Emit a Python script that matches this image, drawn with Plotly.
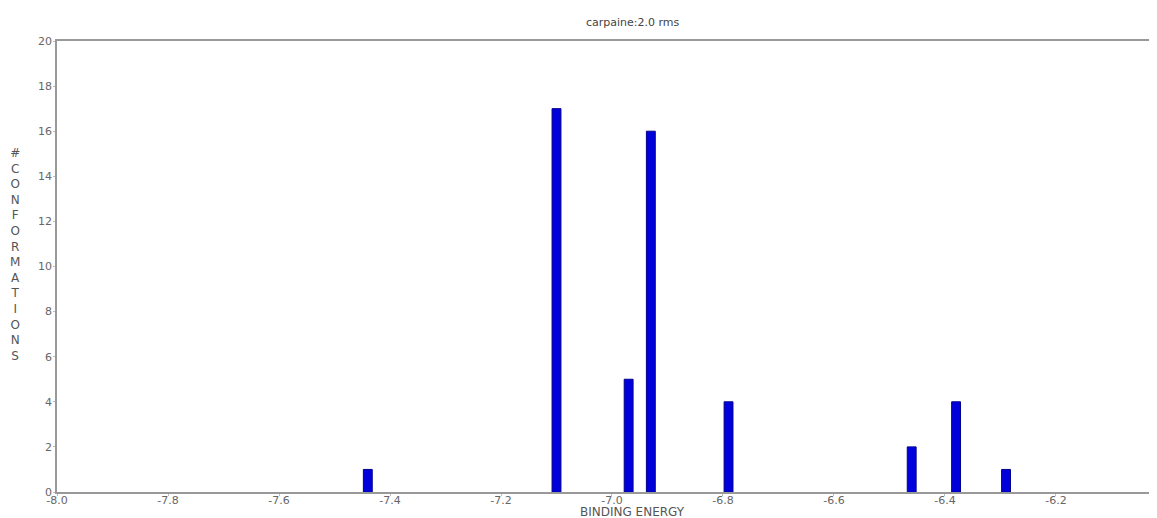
import plotly.graph_objects as go

binding_energy = [-7.44, -7.10, -6.97, -6.93, -6.79, -6.46, -6.38, -6.29]
conformations = [1, 17, 5, 16, 4, 2, 4, 1]
x_ticks = [-8.0, -7.8, -7.6, -7.4, -7.2, -7.0, -6.8, -6.6, -6.4, -6.2]
y_ticks = [0, 2, 4, 6, 8, 10, 12, 14, 16, 18, 20]
title_text = "carpaine:2.0 rms"
x_title = "BINDING ENERGY"
y_title = "#CONFORMATIONS"

# page body has an 8px margin; figure is sized to fill the rest of the window
W, H = 1149, 510
L, T, B = 49, 33, 26
plot_w = W - L
plot_h = H - T - B

fig = go.Figure()
fig.add_trace(go.Bar(
    x=binding_energy, y=conformations, width=0.016,
    marker=dict(color="#0000dc", line=dict(color="#00008c", width=1)),
    showlegend=False,
))

font_fam = "DejaVu Sans, Verdana, sans-serif"
fig.update_layout(
    width=W, height=H,
    margin=dict(l=L, r=0, t=T, b=B, autoexpand=False),
    paper_bgcolor="white", plot_bgcolor="white",
    font=dict(family=font_fam, size=11, color="#555"),
    xaxis=dict(range=[-8.0, -6.018], tickvals=x_ticks,
               ticktext=[f"{v:.1f}" for v in x_ticks],
               showgrid=False, zeroline=False, showline=True,
               linecolor="#999", linewidth=1.5, mirror=True,
               ticks="outside", ticklen=2, tickcolor="#bbb",
               ticklabelstandoff=-5,
               tickfont=dict(size=11, color="#666")),
    yaxis=dict(range=[0, 20], tickvals=y_ticks,
               showgrid=False, zeroline=False, showline=True,
               linecolor="#999", linewidth=1.5,
               ticks="outside", ticklen=2, tickcolor="#bbb",
               ticklabelstandoff=-1,
               tickfont=dict(size=11, color="#666")),
    annotations=[
        dict(text=title_text, xref="paper", yref="paper",
             x=(633 - 57) / plot_w, y=1, yshift=19, showarrow=False,
             font=dict(size=11, color="#444"), xanchor="center", yanchor="middle"),
        dict(text=x_title, xref="paper", yref="paper",
             x=(632 - 57) / plot_w, y=0, yshift=-20, showarrow=False,
             font=dict(size=12, color="#555"), xanchor="center", yanchor="middle"),
        dict(text="<br>".join(list(y_title)), xref="paper", yref="paper",
             x=0, xshift=-42, y=(492 - 254) / plot_h, showarrow=False,
             font=dict(size=12, color="#555"), xanchor="center", yanchor="middle"),
    ],
)

fig.write_html("out.html")
